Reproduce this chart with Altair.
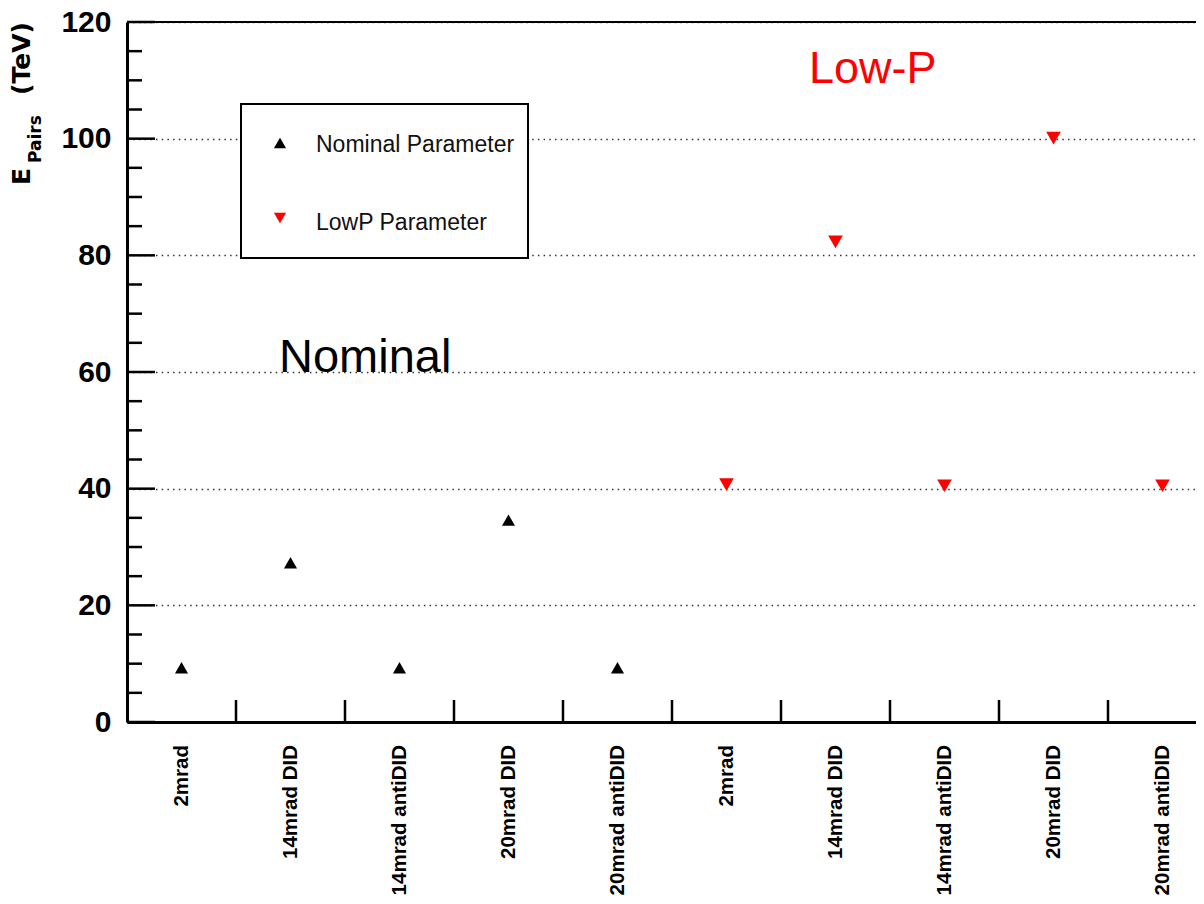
import altair as alt
import pandas as pd

# ---------------- data ----------------
configs = ["2mrad", "14mrad DID", "14mrad antiDID", "20mrad DID", "20mrad antiDID"]
categories = configs + configs
nominal_vals = [9.3, 27.3, 9.3, 34.6, 9.3]
lowp_vals = [40.7, 82.3, 40.5, 100.1, 40.5]
y_major = [0, 20, 40, 60, 80, 100, 120]
y_minor = [5, 10, 15, 25, 30, 35, 45, 50, 55, 65, 70, 75, 85, 90, 95, 105, 110, 115]
legend_labels = ["Nominal Parameter", "LowP Parameter"]
annotations = ["Nominal", "Low-P"]

# ---------------- layout ----------------
W = 1069
H = 700
BIN = 109
FONT = "Liberation Sans"

n = len(categories)
pos = [i + 0.5 for i in range(n)]
edges = list(range(1, n + 1))

xscale = alt.Scale(domain=[0, n], range=[0, n * BIN], nice=False, zero=False)
yscale = alt.Scale(domain=[0, 120], nice=False, zero=True)

XAX = alt.Axis(labels=False, ticks=False, grid=False, domainWidth=3,
               domainColor="black", title=None)
YAX = alt.Axis(values=y_major, labelFont=FONT, labelFontWeight="bold",
               labelFontSize=30, labelColor="black", labelPadding=16,
               ticks=False, domainWidth=3, domainColor="black",
               grid=True, gridDash=[1.5, 4.2], gridColor="#333333",
               gridWidth=1.5, title=None)

df_nom = pd.DataFrame({"pos": pos[:5], "value": nominal_vals})
df_low = pd.DataFrame({"pos": pos[5:], "value": lowp_vals})
df_cat = pd.DataFrame({"pos": pos, "label": categories})
df_edges = pd.DataFrame({"edge": edges})
df_major = pd.DataFrame({"v": y_major})
df_minor = pd.DataFrame({"v": y_minor})
one = pd.DataFrame({"k": [0]})

nom_pts = alt.Chart(df_nom).mark_point(
    shape="triangle-up", filled=True, color="black", size=170, opacity=1).encode(
    x=alt.X("pos:Q", scale=xscale, axis=XAX), y=alt.Y("value:Q", scale=yscale, axis=YAX))
low_pts = alt.Chart(df_low).mark_point(
    shape="triangle-down", filled=True, color="#ff0000", size=215, opacity=1).encode(
    x=alt.X("pos:Q", scale=xscale, axis=XAX), y=alt.Y("value:Q", scale=yscale, axis=YAX))

major_ticks = alt.Chart(df_major).mark_rule(color="black", strokeWidth=2.5).encode(
    y=alt.Y("v:Q", scale=yscale, axis=YAX), x=alt.value(0), x2=alt.value(28))
minor_ticks = alt.Chart(df_minor).mark_rule(color="black", strokeWidth=2.5).encode(
    y=alt.Y("v:Q", scale=yscale, axis=YAX), x=alt.value(0), x2=alt.value(15))
x_ticks = alt.Chart(df_edges).mark_rule(color="black", strokeWidth=2.5).encode(
    x=alt.X("edge:Q", scale=xscale, axis=XAX), y=alt.value(H - 22), y2=alt.value(H))
top_frame = alt.Chart(one).mark_rule(color="black", strokeWidth=2).encode(
    x=alt.value(0), x2=alt.value(W), y=alt.value(0))

x_labels = alt.Chart(df_cat).mark_text(
    angle=270, align="right", baseline="middle", font=FONT, fontWeight="bold",
    fontSize=20.5, color="black").encode(
    x=alt.X("pos:Q", scale=xscale, axis=XAX), y=alt.value(H + 23), text="label:N")

# legend box
leg_box = alt.Chart(one).mark_rect(fill="white", stroke="black", strokeWidth=2).encode(
    x=alt.value(114), x2=alt.value(401), y=alt.value(82), y2=alt.value(236))
leg_sym1 = alt.Chart(one).mark_point(
    shape="triangle-up", filled=True, color="black", size=150, opacity=1).encode(
    x=alt.value(153), y=alt.value(121))
leg_sym2 = alt.Chart(one).mark_point(
    shape="triangle-down", filled=True, color="#ff0000", size=150, opacity=1).encode(
    x=alt.value(153), y=alt.value(196))
leg_txt1 = alt.Chart(pd.DataFrame({"t": [legend_labels[0]]})).mark_text(
    align="left", baseline="alphabetic", font=FONT, fontSize=23, color="#111111").encode(
    x=alt.value(189), y=alt.value(130), text="t:N")
leg_txt2 = alt.Chart(pd.DataFrame({"t": [legend_labels[1]]})).mark_text(
    align="left", baseline="alphabetic", font=FONT, fontSize=23, color="#111111").encode(
    x=alt.value(189), y=alt.value(208), text="t:N")

# big annotations
ann_nom = alt.Chart(pd.DataFrame({"t": [annotations[0]]})).mark_text(
    align="left", baseline="alphabetic", font=FONT, fontSize=47, color="black").encode(
    x=alt.value(152), y=alt.value(350), text="t:N")
ann_low = alt.Chart(pd.DataFrame({"t": [annotations[1]]})).mark_text(
    align="left", baseline="alphabetic", font=FONT, fontSize=45, color="#ff0000").encode(
    x=alt.value(682), y=alt.value(61), text="t:N")

# y title: E_{Pairs} (TeV)
TFONT = "DejaVu Sans"
t_E = alt.Chart(pd.DataFrame({"t": ["E"]})).mark_text(
    angle=270, align="left", baseline="alphabetic", font=TFONT, fontWeight="bold",
    fontSize=25, color="black").encode(x=alt.value(-97), y=alt.value(163), text="t:N")
t_P = alt.Chart(pd.DataFrame({"t": ["Pairs"]})).mark_text(
    angle=270, align="left", baseline="alphabetic", font=TFONT, fontWeight="bold",
    fontSize=17, color="black").encode(x=alt.value(-86), y=alt.value(141), text="t:N")
t_T = alt.Chart(pd.DataFrame({"t": ["(TeV)"]})).mark_text(
    angle=270, align="right", baseline="alphabetic", font=TFONT, fontWeight="bold",
    fontSize=25, color="black").encode(x=alt.value(-97), y=alt.value(0), text="t:N")

chart = alt.layer(
    nom_pts, top_frame, major_ticks, minor_ticks, x_ticks, x_labels,
    leg_box, leg_sym1, leg_sym2, leg_txt1, leg_txt2,
    low_pts, ann_nom, ann_low, t_E, t_P, t_T,
).properties(
    width=W, height=H,
    autosize=alt.AutoSizeParams(type="none"),
    padding={"left": 119, "top": 14, "right": 0, "bottom": 174},
).configure_view(stroke=None).configure(background="white")

chart.save("out.html", embed_options={"renderer": "svg", "actions": False})
